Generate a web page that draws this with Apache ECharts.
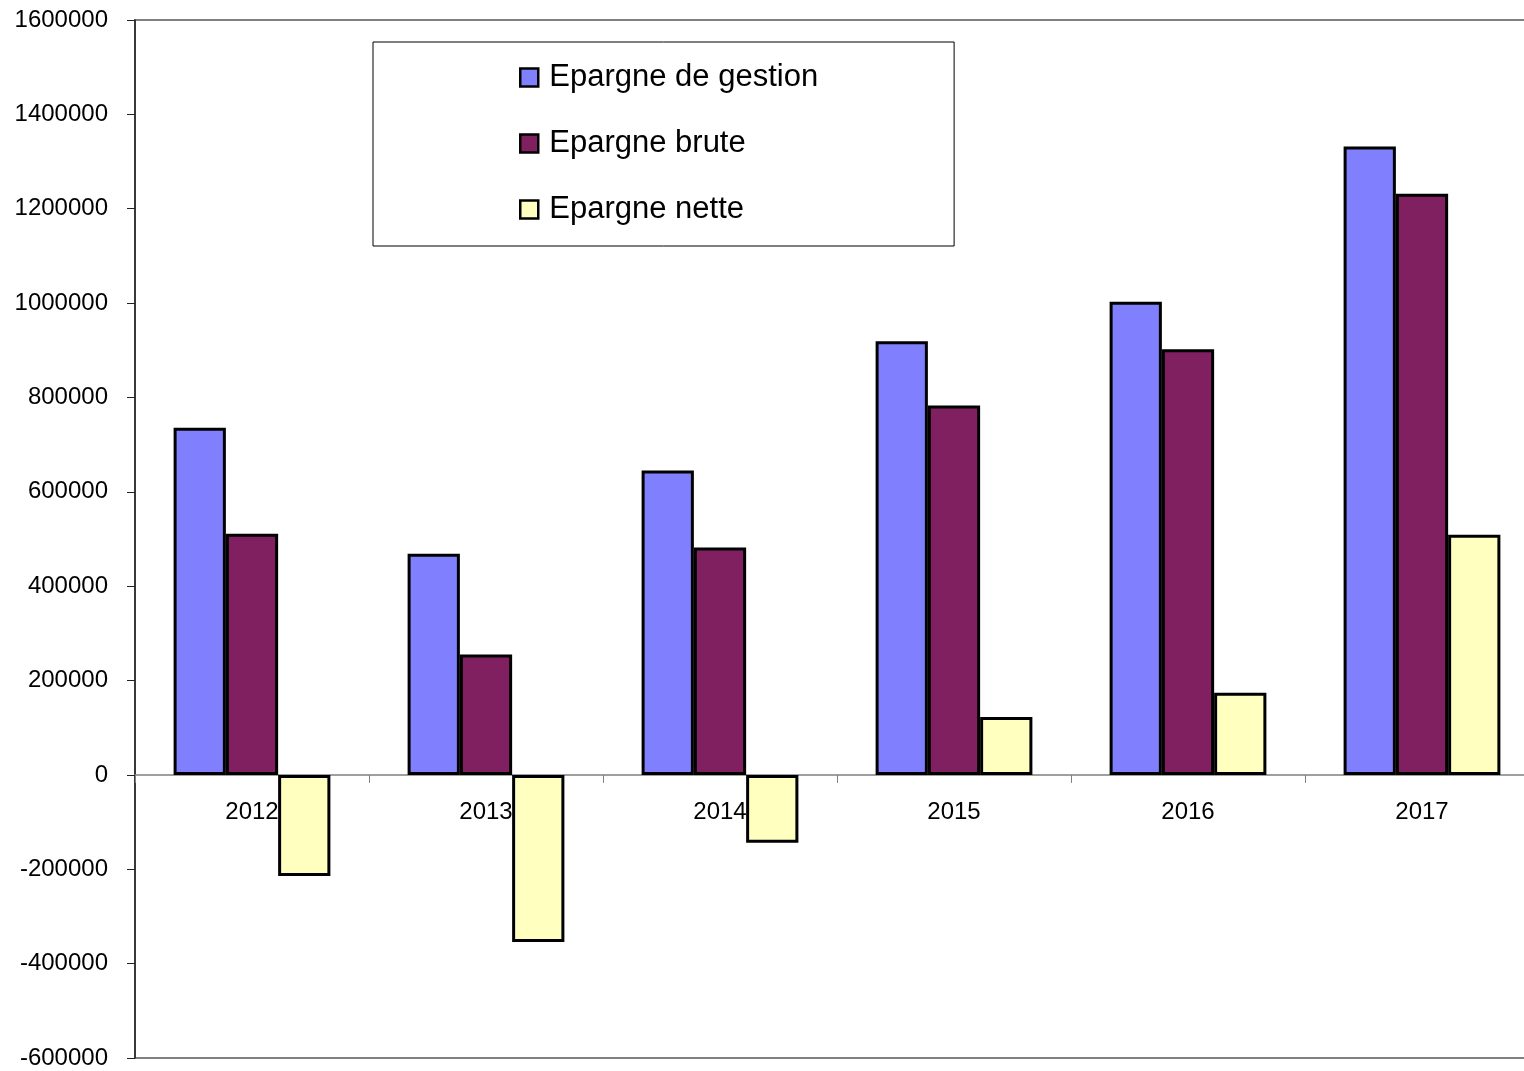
<!DOCTYPE html>
<html>
<head>
<meta charset="utf-8">
<script src="https://cdn.jsdelivr.net/npm/echarts@6/dist/echarts.min.js"></script>
<style>
  html, body { margin: 0; padding: 0; background: #fff; }
  #chart { width: 1524px; height: 1071px; }
</style>
</head>
<body>
<div id="chart"></div>
<script>
// données
const years = ['2012', '2013', '2014', '2015', '2016', '2017'];
const epargneGestion = [736000, 469000, 645000, 919000, 1003000, 1332000];
const epargneBrute = [511000, 255000, 482000, 783000, 902000, 1232000];
const epargneNette = [-214000, -354000, -144000, 123000, 174000, 509000];

const FONT = 'Arial, "Liberation Sans", sans-serif';

const barSeries = (name, data, color) => ({
  name: name,
  type: 'bar',
  data: data,
  barGap: '0%',
  barCategoryGap: '33%',
  itemStyle: { color: color, borderColor: '#000', borderWidth: 3 },
});

const chart = echarts.init(document.getElementById('chart'));
chart.setOption({
  backgroundColor: '#fff',
  animation: false,
  grid: {
    left: 135,
    right: -15, // la zone de tracé déborde à droite dans l'original
    top: 20,
    bottom: 13,
    outerBoundsMode: 'none',
    show: true,
    borderColor: '#808080',
    borderWidth: 2,
  },
  legend: {
    orient: 'vertical',
    left: 373,
    top: 42,
    padding: [20, 136, 21, 146],
    itemWidth: 18,
    itemHeight: 18,
    itemGap: 35,
    icon: 'rect',
    itemStyle: { borderColor: '#000', borderWidth: 2.5 },
    borderColor: '#000',
    borderWidth: 1,
    textStyle: {
      fontFamily: FONT,
      fontSize: 31,
      color: '#000',
      padding: [0, 0, 0, 6],
    },
    data: ['Epargne de gestion', 'Epargne brute', 'Epargne nette'],
  },
  xAxis: {
    type: 'category',
    data: years,
    axisLine: { onZero: true, lineStyle: { color: '#808080', width: 1.5 } },
    axisTick: { show: true, length: 8, lineStyle: { color: '#808080' } },
    // les libellés sont placés depuis le bas de la grille : marge négative
    axisLabel: { fontFamily: FONT, fontSize: 24, color: '#000', margin: -258 },
    splitLine: { show: false },
  },
  yAxis: {
    type: 'value',
    min: -600000,
    max: 1600000,
    interval: 200000,
    axisLine: { show: true, lineStyle: { color: '#222', width: 1.5 } },
    axisTick: { show: true, length: 8, lineStyle: { color: '#222' } },
    axisLabel: {
      fontFamily: FONT,
      fontSize: 24,
      color: '#000',
      margin: 27,
      formatter: (v) => String(v),
    },
    splitLine: { show: false },
  },
  series: [
    barSeries('Epargne de gestion', epargneGestion, '#8080FF'),
    barSeries('Epargne brute', epargneBrute, '#802060'),
    barSeries('Epargne nette', epargneNette, '#FFFFC0'),
  ],
});
</script>
</body>
</html>
